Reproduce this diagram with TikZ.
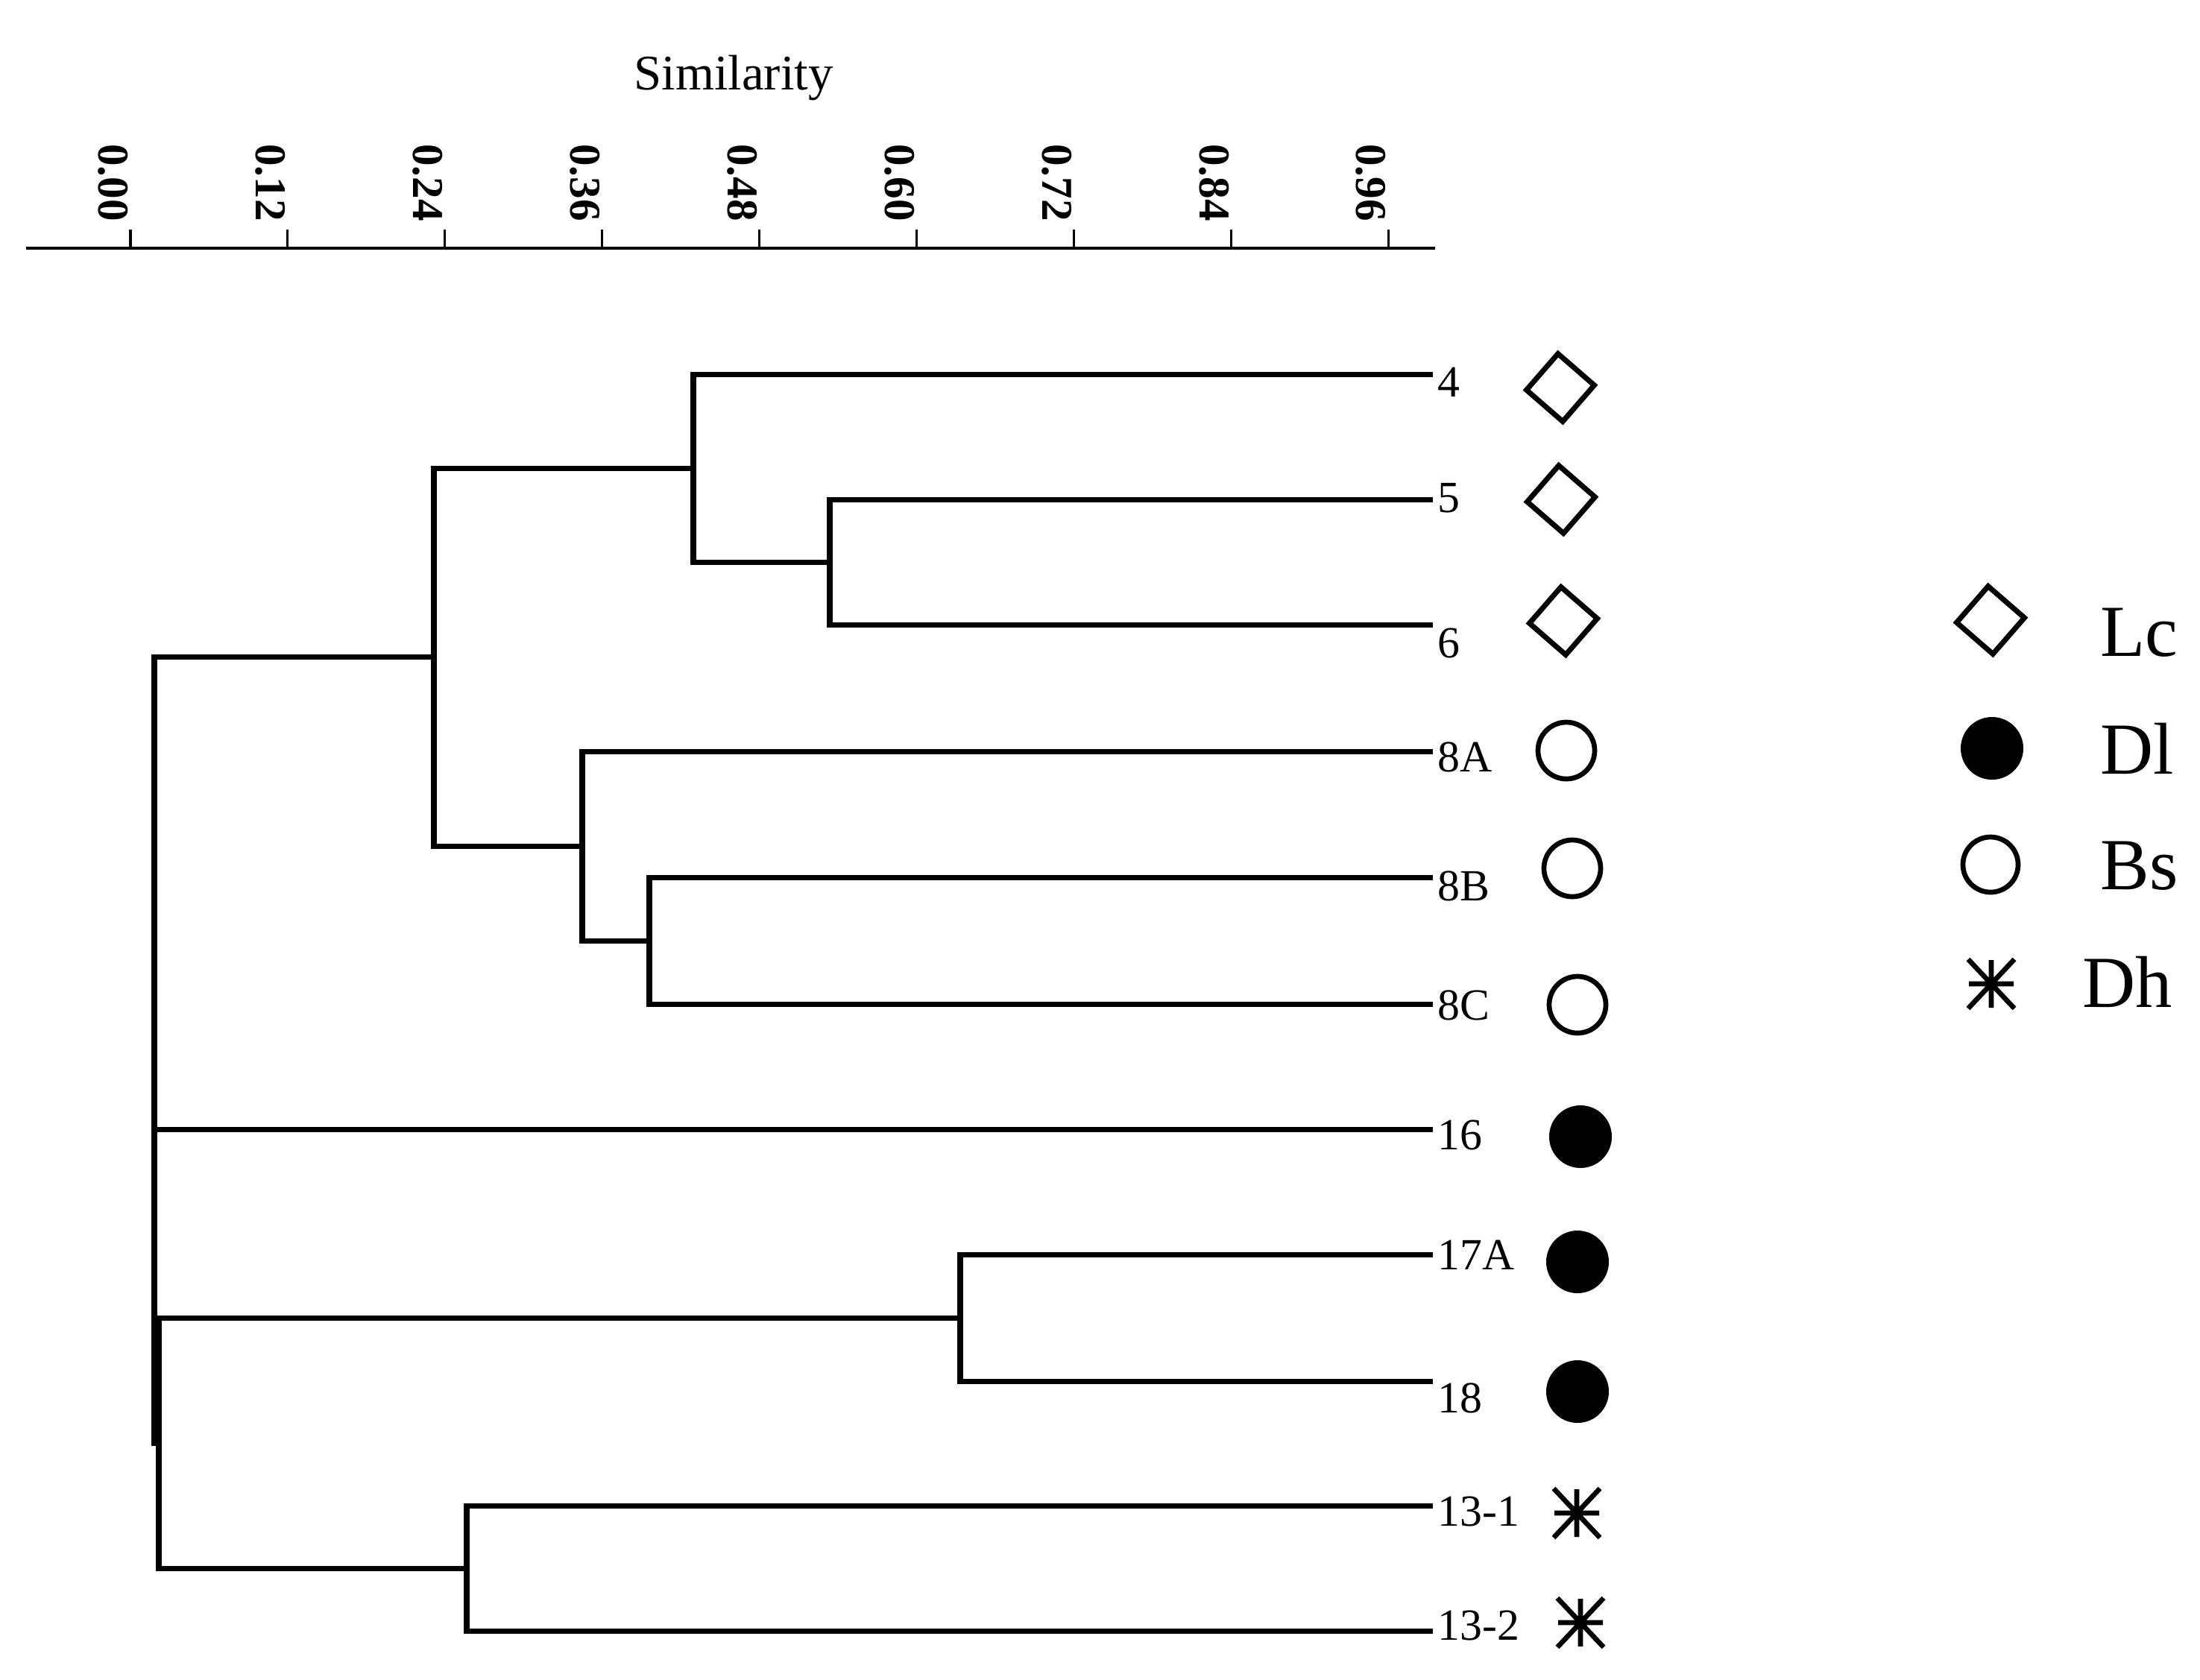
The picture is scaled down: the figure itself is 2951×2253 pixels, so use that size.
\documentclass[tikz,border=0pt]{standalone}
\usepackage{fontspec}
\setmainfont{Liberation Serif}
\usetikzlibrary{shapes.geometric}
\begin{document}
\begin{tikzpicture}[x=0.01cm,y=-0.01cm,
  br/.style={line width=2pt, line join=miter},
  leaflab/.style={anchor=base west, inner sep=0pt, font=\fontsize{17}{20}\selectfont},
  ticklab/.style={inner sep=0pt, rotate=-90, font=\bfseries\fontsize{16.8}{20}\selectfont},
  legtext/.style={anchor=base west, inner sep=0pt, font=\fontsize{28}{32}\selectfont},
  dia/.style={draw, shape=diamond, inner sep=0pt, minimum width=0.94cm, minimum height=0.94cm, rotate=4, line width=2pt},
  ocirc/.style={draw, circle, inner sep=0pt, minimum size=0.76cm, line width=1.9pt},
  fcirc/.style={fill, circle, inner sep=0pt, minimum size=0.84cm},
  asterisk/.pic={\draw[line width=1.9pt] (-30,0)--(30,0) (0,-32)--(0,32) (-31,-33)--(31,33) (-31,33)--(31,-33);}]
\fill[white] (0,0) rectangle (2951,2253);
\useasboundingbox (0,0) rectangle (2951,2253);

% axis
\node[anchor=base, inner sep=0pt, font=\fontsize{19}{22}\selectfont] (sim) at (984,120) {Similarity};
\coordinate (a0) at (35,333);
\coordinate (a1) at (1925,333);
\draw[line width=1.2pt] (a0) -- (a1);
\foreach \k/\lab in {0/0.00,1/0.12,2/0.24,3/0.36,4/0.48,5/0.60,6/0.72,7/0.84,8/0.96}{
  \coordinate (tk\k) at ({175+\k*210.9},333);
  \draw[line width=0.9pt] (tk\k) -- ++(0,-25);
  \node[ticklab] (tl\k) at ({152+\k*210.9},245) {\lab};
}

% leaves
\coordinate (l4) at (1922,502);
\coordinate (l5) at (1922,670);
\coordinate (l6) at (1922,838);
\coordinate (l8A) at (1922,1008);
\coordinate (l8B) at (1922,1177);
\coordinate (l8C) at (1922,1347);
\coordinate (l16) at (1922,1515);
\coordinate (l17A) at (1922,1683);
\coordinate (l18) at (1922,1853);
\coordinate (l131) at (1922,2020);
\coordinate (l132) at (1922,2188);

% internal nodes
\coordinate (n56) at (1113,754);
\coordinate (n456) at (930,628);
\coordinate (n8BC) at (871,1262);
\coordinate (n8) at (781,1135);
\coordinate (nA) at (582,881);
\coordinate (n1718) at (1288,1768);
\coordinate (n13) at (626,2104);
\coordinate (nB) at (213,1936);
\coordinate (root) at (207,1408);

\draw[br] (l5) -| (n56) |- (l6);
\draw[br] (l4) -| (n456) |- (n56);
\draw[br] (l8B) -| (n8BC) |- (l8C);
\draw[br] (l8A) -| (n8) |- (n8BC);
\draw[br] (n456) -| (nA) |- (n8);
\draw[br] (l17A) -| (n1718) |- (l18);
\draw[br] (l131) -| (n13) |- (l132);
\draw[br] (n1718) -| (nB) |- (n13);
\draw[br] (nA) -| (root) |- (nB);
\draw[br] (root |- l16) -- (l16);

% leaf labels
\node[leaflab] (t4) at (1928,532) {4};
\node[leaflab] (t5) at (1928,687) {5};
\node[leaflab] (t6) at (1928,882) {6};
\node[leaflab] (t8A) at (1928,1035) {8A};
\node[leaflab] (t8B) at (1928,1208) {8B};
\node[leaflab] (t8C) at (1928,1368) {8C};
\node[leaflab] (t16) at (1928,1542) {16};
\node[leaflab] (t17A) at (1928,1703) {17A};
\node[leaflab] (t18) at (1928,1895) {18};
\node[leaflab] (t131) at (1928,2047) {13-1};
\node[leaflab] (t132) at (1928,2200) {13-2};

% leaf symbols
\node[dia] (d4) at (2093,520) {};
\node[dia] (d5) at (2094,670) {};
\node[dia] (d6) at (2097,833) {};
\node[ocirc] (c8A) at (2101,1007) {};
\node[ocirc] (c8B) at (2109,1165) {};
\node[ocirc] (c8C) at (2116,1348) {};
\node[fcirc] (f16) at (2120,1525) {};
\node[fcirc] (f17A) at (2116,1693) {};
\node[fcirc] (f18) at (2116,1867) {};
\pic (s131) at (2115,2030) {asterisk};
\pic (s132) at (2120,2177) {asterisk};

% legend
\node[dia] (ld) at (2670,832) {};
\node[fcirc] (lf) at (2672,1004) {};
\node[ocirc, minimum size=0.74cm] (lo) at (2670,1160) {};
\pic (ls) at (2671,1320) {asterisk};
\node[legtext] (tLc) at (2817,880) {Lc};
\node[legtext] (tDl) at (2817,1038) {Dl};
\node[legtext] (tBs) at (2817,1193) {Bs};
\node[legtext] (tDh) at (2793,1351) {Dh};
\end{tikzpicture}
\end{document}
